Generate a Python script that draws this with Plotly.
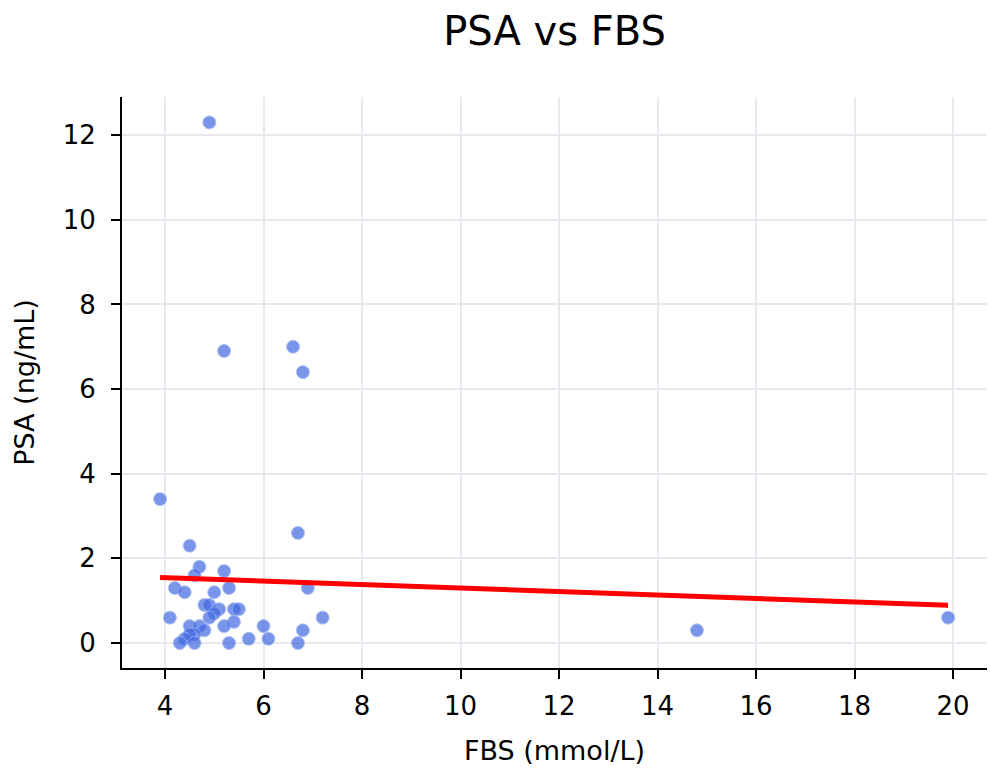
import plotly.graph_objects as go

fbs = [4.9, 5.2, 6.6, 6.8, 3.9, 6.7, 4.5, 4.7, 5.2, 4.6, 4.2, 4.4, 5.0, 5.3, 6.9,
       4.8, 4.9, 5.1, 5.4, 5.5, 5.0, 4.9, 4.1, 7.2, 5.4, 4.5, 4.7, 5.2, 6.0,
       4.8, 6.8, 14.8, 4.6, 4.5, 4.4, 5.7, 6.1, 4.3, 4.6, 5.3, 6.7, 19.9]
psa = [12.3, 6.9, 7.0, 6.4, 3.4, 2.6, 2.3, 1.8, 1.7, 1.6, 1.3, 1.2, 1.2, 1.3, 1.3,
       0.9, 0.9, 0.8, 0.8, 0.8, 0.7, 0.6, 0.6, 0.6, 0.5, 0.4, 0.4, 0.4, 0.4,
       0.3, 0.3, 0.3, 0.2, 0.2, 0.1, 0.1, 0.1, 0.0, 0.0, 0.0, 0.0, 0.6]

# fitted trend line
trend_x = [3.9, 19.9]
trend_y = [1.55, 0.89]

fig = go.Figure()
fig.add_trace(go.Scatter(x=fbs, y=psa, mode="markers",
                         marker=dict(color="royalblue", opacity=0.7, size=13,
                                     line=dict(width=1, color="#8fa6f0")),
                         showlegend=False))
fig.add_trace(go.Scatter(x=trend_x, y=trend_y, mode="lines", line=dict(color="red", width=5),
                         showlegend=False))

axis_common = dict(showline=True, linecolor="black", linewidth=2, ticks="outside",
                   ticklen=9, tickwidth=2, tickcolor="black", showgrid=True,
                   gridcolor="#e8e8ee", gridwidth=1.5, zeroline=False,
                   tickfont=dict(size=26, color="black"), mirror=False)
fig.update_layout(
    width=990, height=769,
    margin=dict(l=122, r=3, t=97, b=101),
    plot_bgcolor="white", paper_bgcolor="white",
    font=dict(family="DejaVu Sans", color="black"),
    title=dict(text="PSA vs FBS", xref="paper", x=0.5, xanchor="center", y=0.96, yanchor="middle",
               font=dict(size=40, color="black")),
    xaxis=dict(range=[3.127, 20.69], dtick=2, ticklabelstandoff=5,
               title=dict(text="FBS (mmol/L)", font=dict(size=27), standoff=21), **axis_common),
    yaxis=dict(range=[-0.59, 12.9], dtick=2, ticklabelstandoff=10,
               title=dict(text="PSA (ng/mL)", font=dict(size=27), standoff=20), **axis_common),
)
fig.write_html("out.html")
